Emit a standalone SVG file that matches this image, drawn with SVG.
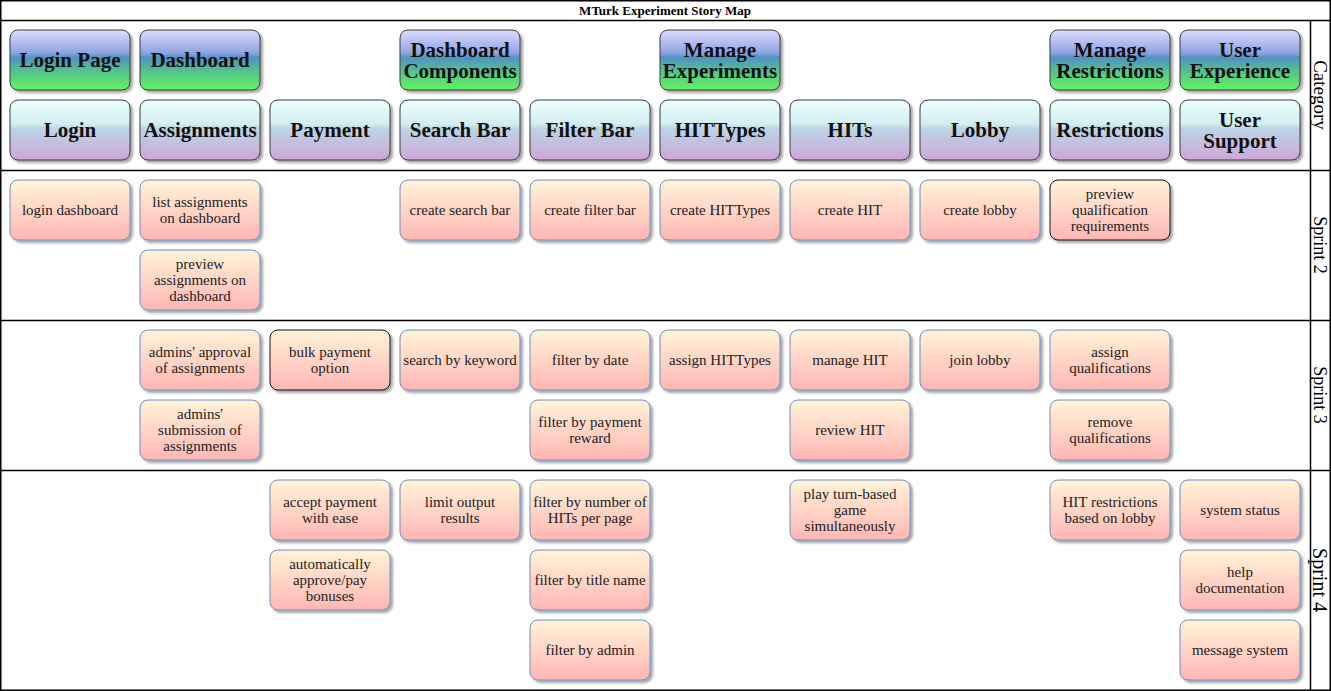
<svg xmlns="http://www.w3.org/2000/svg" width="1331" height="691" viewBox="0 0 1331 691">
<defs>
<linearGradient id="gCat" x1="0" y1="0" x2="0" y2="1">
<stop offset="0" stop-color="#dedcff"/>
<stop offset="0.38" stop-color="#8fa4e2"/>
<stop offset="0.46" stop-color="#4f92c4"/>
<stop offset="0.7" stop-color="#56c48a"/>
<stop offset="1" stop-color="#62f65e"/>
</linearGradient>
<linearGradient id="gSub" x1="0" y1="0" x2="0" y2="1">
<stop offset="0" stop-color="#ecfffd"/>
<stop offset="0.4" stop-color="#d2eef2"/>
<stop offset="0.47" stop-color="#bcd6e6"/>
<stop offset="1" stop-color="#d0a4d8"/>
</linearGradient>
<linearGradient id="gStory" x1="0" y1="0" x2="0" y2="1">
<stop offset="0" stop-color="#fff4d8"/>
<stop offset="1" stop-color="#ffb6b4"/>
</linearGradient>
<filter id="sh" x="-10%" y="-10%" width="130%" height="130%">
<feDropShadow dx="2.5" dy="2.5" stdDeviation="1.2" flood-color="#000" flood-opacity="0.35"/>
</filter>
</defs>
<style>
.cat rect{fill:url(#gCat);stroke:#3a3a3a;stroke-width:1;filter:url(#sh)}
.sub rect{fill:url(#gSub);stroke:#3a3a4a;stroke-width:1;filter:url(#sh)}
.story rect{fill:url(#gStory);stroke:#6c8ebf;stroke-width:1;filter:url(#sh)}
.story.blk rect{stroke:#111}
.cat text,.sub text{font-family:"Liberation Serif","DejaVu Serif",serif;font-weight:bold;font-size:21px;fill:#111;text-anchor:middle}
.story text{font-family:"Liberation Serif","DejaVu Serif",serif;font-size:15px;fill:#222;text-anchor:middle}
.frame{fill:none;stroke:#000;stroke-width:1.5}
.lbl{font-family:"Liberation Serif","DejaVu Serif",serif;font-size:18px;fill:#000;text-anchor:middle;dominant-baseline:central}
.title{font-family:"Liberation Serif","DejaVu Serif",serif;font-size:13px;font-weight:bold;fill:#000;text-anchor:middle}
</style>
<rect width="1331" height="691" fill="#fff"/>
<g id="frame">
<rect class="frame" x="0.75" y="0.75" width="1329.5" height="689.5"/>
<line class="frame" x1="0" y1="20.5" x2="1331" y2="20.5"/>
<line class="frame" x1="0" y1="170.5" x2="1331" y2="170.5"/>
<line class="frame" x1="0" y1="320.5" x2="1331" y2="320.5"/>
<line class="frame" x1="0" y1="470.5" x2="1331" y2="470.5"/>
<line class="frame" x1="1310.5" y1="20" x2="1310.5" y2="691"/>
<text class="title" x="665" y="15">MTurk Experiment Story Map</text>
<text class="lbl" style="font-size:19px" transform="rotate(90 1320 95)" x="1320" y="95">Category</text>
<text class="lbl" transform="rotate(90 1320 245)" x="1320" y="245">Sprint 2</text>
<text class="lbl" transform="rotate(90 1320 395)" x="1320" y="395">Sprint 3</text>
<text class="lbl" style="font-size:20px" transform="rotate(90 1320 580)" x="1320" y="580">Sprint 4</text>
</g>
<g id="connectors"/>
<g id="cat-login-page" class="cat"><rect x="10" y="30" width="120" height="60" rx="8"/><text x="70" y="67">Login Page</text></g>
<g id="cat-dashboard" class="cat"><rect x="140" y="30" width="120" height="60" rx="8"/><text x="200" y="67">Dashboard</text></g>
<g id="cat-dashboard-components" class="cat"><rect x="400" y="30" width="120" height="60" rx="8"/><text x="460" y="57">Dashboard</text><text x="460" y="78">Components</text></g>
<g id="cat-manage-experiments" class="cat"><rect x="660" y="30" width="120" height="60" rx="8"/><text x="720" y="57">Manage</text><text x="720" y="78">Experiments</text></g>
<g id="cat-manage-restrictions" class="cat"><rect x="1050" y="30" width="120" height="60" rx="8"/><text x="1110" y="57">Manage</text><text x="1110" y="78">Restrictions</text></g>
<g id="cat-user-experience" class="cat"><rect x="1180" y="30" width="120" height="60" rx="8"/><text x="1240" y="57">User</text><text x="1240" y="78">Experience</text></g>
<g id="sub-login" class="sub"><rect x="10" y="100" width="120" height="60" rx="8"/><text x="70" y="137">Login</text></g>
<g id="sub-assignments" class="sub"><rect x="140" y="100" width="120" height="60" rx="8"/><text x="200" y="137">Assignments</text></g>
<g id="sub-payment" class="sub"><rect x="270" y="100" width="120" height="60" rx="8"/><text x="330" y="137">Payment</text></g>
<g id="sub-search-bar" class="sub"><rect x="400" y="100" width="120" height="60" rx="8"/><text x="460" y="137">Search Bar</text></g>
<g id="sub-filter-bar" class="sub"><rect x="530" y="100" width="120" height="60" rx="8"/><text x="590" y="137">Filter Bar</text></g>
<g id="sub-hittypes" class="sub"><rect x="660" y="100" width="120" height="60" rx="8"/><text x="720" y="137">HITTypes</text></g>
<g id="sub-hits" class="sub"><rect x="790" y="100" width="120" height="60" rx="8"/><text x="850" y="137">HITs</text></g>
<g id="sub-lobby" class="sub"><rect x="920" y="100" width="120" height="60" rx="8"/><text x="980" y="137">Lobby</text></g>
<g id="sub-restrictions" class="sub"><rect x="1050" y="100" width="120" height="60" rx="8"/><text x="1110" y="137">Restrictions</text></g>
<g id="sub-user-support" class="sub"><rect x="1180" y="100" width="120" height="60" rx="8"/><text x="1240" y="127">User</text><text x="1240" y="148">Support</text></g>
<g id="s2-login-dashboard" class="story"><rect x="10" y="180" width="120" height="60" rx="8"/><text x="70" y="215">login dashboard</text></g>
<g id="s2-list-assignments" class="story"><rect x="140" y="180" width="120" height="60" rx="8"/><text x="200" y="207">list assignments</text><text x="200" y="223">on dashboard</text></g>
<g id="s2-preview-assignments" class="story"><rect x="140" y="250" width="120" height="60" rx="8"/><text x="200" y="269">preview</text><text x="200" y="285">assignments on</text><text x="200" y="301">dashboard</text></g>
<g id="s2-create-search-bar" class="story"><rect x="400" y="180" width="120" height="60" rx="8"/><text x="460" y="215">create search bar</text></g>
<g id="s2-create-filter-bar" class="story"><rect x="530" y="180" width="120" height="60" rx="8"/><text x="590" y="215">create filter bar</text></g>
<g id="s2-create-hittypes" class="story"><rect x="660" y="180" width="120" height="60" rx="8"/><text x="720" y="215">create HITTypes</text></g>
<g id="s2-create-hit" class="story"><rect x="790" y="180" width="120" height="60" rx="8"/><text x="850" y="215">create HIT</text></g>
<g id="s2-create-lobby" class="story"><rect x="920" y="180" width="120" height="60" rx="8"/><text x="980" y="215">create lobby</text></g>
<g id="s2-preview-qualification" class="story blk"><rect x="1050" y="180" width="120" height="60" rx="8"/><text x="1110" y="199">preview</text><text x="1110" y="215">qualification</text><text x="1110" y="231">requirements</text></g>
<g id="s3-admins-approval" class="story"><rect x="140" y="330" width="120" height="60" rx="8"/><text x="200" y="357">admins' approval</text><text x="200" y="373">of assignments</text></g>
<g id="s3-admins-submission" class="story"><rect x="140" y="400" width="120" height="60" rx="8"/><text x="200" y="419">admins'</text><text x="200" y="435">submission of</text><text x="200" y="451">assignments</text></g>
<g id="s3-bulk-payment" class="story blk"><rect x="270" y="330" width="120" height="60" rx="8"/><text x="330" y="357">bulk payment</text><text x="330" y="373">option</text></g>
<g id="s3-search-keyword" class="story"><rect x="400" y="330" width="120" height="60" rx="8"/><text x="460" y="365">search by keyword</text></g>
<g id="s3-filter-date" class="story"><rect x="530" y="330" width="120" height="60" rx="8"/><text x="590" y="365">filter by date</text></g>
<g id="s3-filter-payment" class="story"><rect x="530" y="400" width="120" height="60" rx="8"/><text x="590" y="427">filter by payment</text><text x="590" y="443">reward</text></g>
<g id="s3-assign-hittypes" class="story"><rect x="660" y="330" width="120" height="60" rx="8"/><text x="720" y="365">assign HITTypes</text></g>
<g id="s3-manage-hit" class="story"><rect x="790" y="330" width="120" height="60" rx="8"/><text x="850" y="365">manage HIT</text></g>
<g id="s3-review-hit" class="story"><rect x="790" y="400" width="120" height="60" rx="8"/><text x="850" y="435">review HIT</text></g>
<g id="s3-join-lobby" class="story"><rect x="920" y="330" width="120" height="60" rx="8"/><text x="980" y="365">join lobby</text></g>
<g id="s3-assign-qualifications" class="story"><rect x="1050" y="330" width="120" height="60" rx="8"/><text x="1110" y="357">assign</text><text x="1110" y="373">qualifications</text></g>
<g id="s3-remove-qualifications" class="story"><rect x="1050" y="400" width="120" height="60" rx="8"/><text x="1110" y="427">remove</text><text x="1110" y="443">qualifications</text></g>
<g id="s4-accept-payment" class="story"><rect x="270" y="480" width="120" height="60" rx="8"/><text x="330" y="507">accept payment</text><text x="330" y="523">with ease</text></g>
<g id="s4-auto-approve" class="story"><rect x="270" y="550" width="120" height="60" rx="8"/><text x="330" y="569">automatically</text><text x="330" y="585">approve/pay</text><text x="330" y="601">bonuses</text></g>
<g id="s4-limit-output" class="story"><rect x="400" y="480" width="120" height="60" rx="8"/><text x="460" y="507">limit output</text><text x="460" y="523">results</text></g>
<g id="s4-filter-number" class="story"><rect x="530" y="480" width="120" height="60" rx="8"/><text x="590" y="507">filter by number of</text><text x="590" y="523">HITs per page</text></g>
<g id="s4-filter-title" class="story"><rect x="530" y="550" width="120" height="60" rx="8"/><text x="590" y="585">filter by title name</text></g>
<g id="s4-filter-admin" class="story"><rect x="530" y="620" width="120" height="60" rx="8"/><text x="590" y="655">filter by admin</text></g>
<g id="s4-play-game" class="story"><rect x="790" y="480" width="120" height="60" rx="8"/><text x="850" y="499">play turn-based</text><text x="850" y="515">game</text><text x="850" y="531">simultaneously</text></g>
<g id="s4-hit-restrictions" class="story"><rect x="1050" y="480" width="120" height="60" rx="8"/><text x="1110" y="507">HIT restrictions</text><text x="1110" y="523">based on lobby</text></g>
<g id="s4-system-status" class="story"><rect x="1180" y="480" width="120" height="60" rx="8"/><text x="1240" y="515">system status</text></g>
<g id="s4-help-documentation" class="story"><rect x="1180" y="550" width="120" height="60" rx="8"/><text x="1240" y="577">help</text><text x="1240" y="593">documentation</text></g>
<g id="s4-message-system" class="story"><rect x="1180" y="620" width="120" height="60" rx="8"/><text x="1240" y="655">message system</text></g>
</svg>
